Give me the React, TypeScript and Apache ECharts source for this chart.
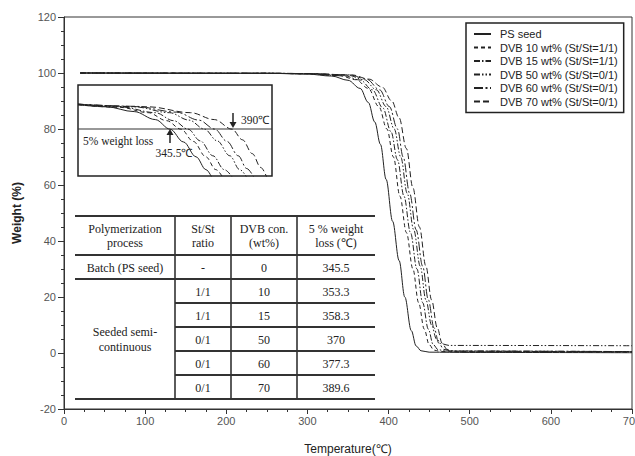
import React, { useEffect, useRef } from 'react';
import * as echarts from 'echarts';

// ---------- data ----------
const seriesNames = [
  'PS seed',
  'DVB 10 wt% (St/St=1/1)',
  'DVB 15 wt% (St/St=1/1)',
  'DVB 50 wt% (St/St=0/1)',
  'DVB 60 wt% (St/St=0/1)',
  'DVB 70 wt% (St/St=0/1)',
];

// main TGA curves: [temperature (°C), weight (%)]
const psSeed = [[20,100],[250,99.9],[300,99.6],[330,98.9],[350,97.4],[365,94.5],[375,89.5],[383,82.5],[390,74.5],[397,62],[405,47],[413,33],[420,20],[428,8],[434,2.5],[440,0.8],[450,0.3],[500,0.2],[700,0.1]];
const dvb10 = [[20,100],[250,99.9],[300,99.7],[340,99],[360,97.6],[375,94.5],[388,88],[398,80],[406,70],[414,56],[422,43],[430,30],[437,18],[444,8.5],[450,3],[456,1],[465,0.5],[500,0.4],[700,0.3]];
const dvb15 = [[20,100],[250,99.9],[300,99.7],[345,99],[365,97.5],[380,94],[393,87.5],[403,79],[411,69],[419,56],[427,43],[435,30],[442,18],[449,8.5],[455,3],[461,1.2],[470,0.7],[700,0.5]];
const dvb50 = [[20,100],[250,99.9],[300,99.8],[350,99.2],[370,97.6],[385,94],[397,88],[407,80],[415,70],[423,57],[431,44],[439,31],[446,19],[453,10],[459,5],[465,3.3],[475,2.7],[700,2.6]];
const dvb60 = [[20,100],[250,99.9],[300,99.8],[352,99.3],[373,97.8],[389,94],[401,88],[411,80],[418,70],[426,57],[434,44],[442,31],[449,19],[456,9],[462,3.5],[468,1.3],[478,0.7],[700,0.5]];
const dvb70 = [[20,100],[250,99.9],[300,99.8],[355,99.3],[376,97.8],[392,95],[404,90],[413,84],[422,73],[430,59],[438,45],[446,31],[453,19],[460,9],[466,3.5],[472,1.3],[482,0.6],[700,0.4]];

// inset (zoom near 5 % weight loss)
const insetPs = [[280,99.6],[300,99.2],[320,98.3],[335,96.8],[345.5,95],[355,92.6],[364,89.8],[371,87.4],[376,85.5]];
const insetDvb10 = [[280,99.6],[310,99.1],[330,98.1],[343,96.6],[353.3,95],[362,92.7],[371,89.8],[378,87.4],[384,85.5]];
const insetDvb15 = [[280,99.6],[310,99.2],[335,98.1],[348,96.6],[358.3,95],[367,92.8],[376,90],[384,87.4],[391,85.5]];
const insetDvb50 = [[280,99.7],[320,99.2],[345,98.1],[359,96.7],[370,95],[379,92.8],[388,90],[395,87.4],[401,85.5]];
const insetDvb60 = [[280,99.7],[320,99.3],[350,98.2],[366,96.7],[377.3,95],[386,92.7],[394,90],[400,87.6],[406,85.5]];
const insetDvb70 = [[280,99.7],[330,99.2],[360,98.1],[377,96.8],[389.6,95],[397,93],[404,90.4],[410,87.8],[415,85.5]];

// table
const tableHeader = [['Polymerization', 'process'], ['St/St', 'ratio'], ['DVB con.', '(wt%)'], ['5 % weight', 'loss (\u2103)']];
const processBatch = 'Batch (PS seed)';
const processSeeded = ['Seeded semi-', 'continuous'];
const stRatios = ['-', '1/1', '1/1', '0/1', '0/1', '0/1'];
const dvbContent = ['0', '10', '15', '50', '60', '70'];
const weightLoss5 = ['345.5', '353.3', '358.3', '370', '377.3', '389.6'];

const mainData = [psSeed, dvb10, dvb15, dvb50, dvb60, dvb70];
const insetData = [insetPs, insetDvb10, insetDvb15, insetDvb50, insetDvb60, insetDvb70];

// ---------- styles ----------
const dashes: any[] = ['solid', [4, 3], [6, 2, 1.5, 2], [6, 2, 1.5, 2, 1.5, 2], [9, 2.5, 2, 2.5], [6, 3]];
const INK = '#222';
const SERIF = '"Liberation Serif", "Times New Roman", serif';
const SANS = '"Liberation Sans", Arial, sans-serif';

function buildGraphic() {
  const els: any[] = [];
  const line = (x1: number, y1: number, x2: number, y2: number, w = 1.6) =>
    els.push({ type: 'line', shape: { x1, y1, x2, y2 }, style: { stroke: '#333', lineWidth: w }, silent: true });
  const text = (t: string, x: number, y: number, size = 12, align = 'center') =>
    els.push({ type: 'text', x, y, style: { text: t, font: `${size}px ${SERIF}`, fill: INK, align, verticalAlign: 'middle' }, silent: true });

  // table geometry
  const tL = 75, tR = 375;
  const colX = [75, 175, 231, 297, 375];
  const colC = [125, 203, 264, 336];
  const top = 216, headBottom = 255, rowH = 24;
  const rowLines = [279, 303, 327, 351, 375];
  const bottom = 399;

  line(tL, top, tR, top, 2);
  line(tL, headBottom, tR, headBottom, 2);
  line(tL, rowLines[0], tR, rowLines[0], 2);
  for (let i = 1; i < rowLines.length; i++) line(colX[1], rowLines[i], tR, rowLines[i], 2);
  line(tL, bottom, tR, bottom, 2);
  for (let c = 1; c < 4; c++) line(colX[c], top, colX[c], bottom, 1.6);

  tableHeader.forEach((h, c) => {
    text(h[0], colC[c], 229);
    text(h[1], colC[c], 243);
  });
  text(processBatch, colC[0], 268);
  text(processSeeded[0], colC[0], 332);
  text(processSeeded[1], colC[0], 347);
  for (let r = 0; r < stRatios.length; r++) {
    const y = headBottom + rowH / 2 + r * rowH + 1;
    text(stRatios[r], colC[1], y);
    text(dvbContent[r], colC[2], y);
    text(weightLoss5[r], colC[3], y);
  }

  // inset
  els.push({ type: 'rect', shape: { x: 78, y: 85, width: 194, height: 91 }, style: { fill: 'none', stroke: INK, lineWidth: 1.5 }, silent: true });
  line(78, 129, 272, 129, 1.2);
  text('5% weight loss', 83, 141, 11.5, 'left');
  text('345.5\u2103', 174, 153, 11.5);
  text('390\u2103', 241, 120, 11.5, 'left');
  // arrows
  line(170, 143, 170, 133, 1.6);
  els.push({ type: 'polygon', shape: { points: [[166.5, 135], [173.5, 135], [170, 129]] }, style: { fill: INK }, silent: true });
  line(233, 113, 233, 123, 1.6);
  els.push({ type: 'polygon', shape: { points: [[229.5, 122], [236.5, 122], [233, 128]] }, style: { fill: INK }, silent: true });
  return els;
}

export default function App() {
  const ref = useRef<HTMLDivElement>(null);
  useEffect(() => {
    if (!ref.current) return;
    const chart = echarts.init(ref.current, undefined, { renderer: 'svg' });
    const series: any[] = [];
    mainData.forEach((d, i) => {
      series.push({
        name: seriesNames[i], type: 'line', data: d, xAxisIndex: 0, yAxisIndex: 0,
        symbol: 'none', smooth: 0.35, smoothMonotone: 'x',
        lineStyle: { color: INK, width: 1, type: dashes[i] }, itemStyle: { color: INK },
      });
    });
    insetData.forEach((d, i) => {
      series.push({
        name: 'inset ' + seriesNames[i], type: 'line', data: d, xAxisIndex: 1, yAxisIndex: 1,
        symbol: 'none', smooth: 0.35, smoothMonotone: 'x',
        lineStyle: { color: INK, width: 1, type: dashes[i] },
      });
    });
    chart.setOption({
      animation: false,
      backgroundColor: '#fff',
      grid: [
        { left: 64, right: 3, top: 17, bottom: 47, show: true, borderColor: '#333', borderWidth: 1, containLabel: false, outerBoundsMode: 'none' },
        { left: 78, top: 85, width: 194, height: 91, containLabel: false, outerBoundsMode: 'none' },
      ],
      legend: {
        data: seriesNames,
        orient: 'vertical', left: 466, top: 23,
        padding: [5, 6, 5, 7],
        itemWidth: 17, itemHeight: 12, itemGap: 1.5,
        itemStyle: { opacity: 0 },
        borderColor: INK, borderWidth: 1.5,
        textStyle: { fontFamily: SANS, fontSize: 11, color: INK, padding: [0, 0, 0, 4], lineHeight: 12 },
      },
      xAxis: [
        {
          type: 'value', min: 0, max: 700, interval: 100, gridIndex: 0,
          name: 'Temperature(\u2103)', nameLocation: 'middle', nameGap: 34,
          nameTextStyle: { fontFamily: SANS, fontSize: 12, color: INK },
          axisLine: { onZero: false, lineStyle: { color: '#333' } },
          axisTick: { inside: false, length: 5, lineStyle: { color: '#333' } },
          minorTick: { show: true, splitNumber: 4, length: 3, lineStyle: { color: '#333' } },
          axisLabel: { fontFamily: SANS, fontSize: 11, color: '#555', margin: 6 },
          splitLine: { show: false },
        },
        { type: 'value', min: 280, max: 418, gridIndex: 1, show: false, splitLine: { show: false } },
      ],
      yAxis: [
        {
          type: 'value', min: -20, max: 120, interval: 20, gridIndex: 0,
          name: 'Weight (%)', nameLocation: 'middle', nameGap: 41,
          nameTextStyle: { fontFamily: SANS, fontSize: 12, color: INK, fontWeight: 'bold' },
          axisLine: { show: true, onZero: false, lineStyle: { color: '#333' } },
          axisTick: { show: true, inside: false, length: 6, lineStyle: { color: '#333' } },
          minorTick: { show: true, splitNumber: 4, length: 3, lineStyle: { color: '#333' } },
          axisLabel: { fontFamily: SANS, fontSize: 11, color: '#555', margin: 8 },
          splitLine: { show: false },
        },
        { type: 'value', min: 86.2, max: 103.3, gridIndex: 1, show: false, splitLine: { show: false } },
      ],
      series,
      graphic: buildGraphic(),
    });
    return () => chart.dispose();
  }, []);
  return <div ref={ref} style={{ position: 'fixed', left: 0, top: 0, width: 635, height: 456 }} />;
}
